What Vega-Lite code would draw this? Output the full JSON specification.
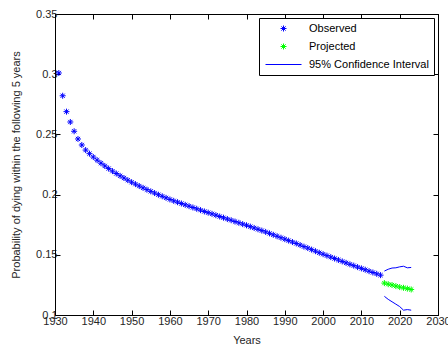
{
  "$schema": "https://vega.github.io/schema/vega-lite/v6.json",
  "width": 383,
  "height": 301,
  "autosize": "none",
  "padding": {"left": 55, "top": 14, "right": 10, "bottom": 32},
  "background": "white",
  "config": {
    "font": "Liberation Sans",
    "view": {"stroke": "black", "strokeWidth": 1},
    "axis": {
      "grid": false,
      "domainColor": "black",
      "tickColor": "black",
      "tickSize": -5,
      "labelFlush": false,
      "labelOverlap": false,
      "labelFontSize": 11,
      "labelColor": "#262626",
      "titleFontSize": 11,
      "titleFontWeight": "normal",
      "titleColor": "#262626"
    }
  },
  "datasets": {
    "all": [
      {"year": 1931, "value": 0.301, "series": "Observed"},
      {"year": 1932, "value": 0.2821, "series": "Observed"},
      {"year": 1933, "value": 0.2689, "series": "Observed"},
      {"year": 1934, "value": 0.2603, "series": "Observed"},
      {"year": 1935, "value": 0.2526, "series": "Observed"},
      {"year": 1936, "value": 0.2462, "series": "Observed"},
      {"year": 1937, "value": 0.2412, "series": "Observed"},
      {"year": 1938, "value": 0.237, "series": "Observed"},
      {"year": 1939, "value": 0.234, "series": "Observed"},
      {"year": 1940, "value": 0.2312, "series": "Observed"},
      {"year": 1941, "value": 0.2286, "series": "Observed"},
      {"year": 1942, "value": 0.2261, "series": "Observed"},
      {"year": 1943, "value": 0.2238, "series": "Observed"},
      {"year": 1944, "value": 0.2216, "series": "Observed"},
      {"year": 1945, "value": 0.2195, "series": "Observed"},
      {"year": 1946, "value": 0.2175, "series": "Observed"},
      {"year": 1947, "value": 0.2156, "series": "Observed"},
      {"year": 1948, "value": 0.2138, "series": "Observed"},
      {"year": 1949, "value": 0.212, "series": "Observed"},
      {"year": 1950, "value": 0.2103, "series": "Observed"},
      {"year": 1951, "value": 0.2087, "series": "Observed"},
      {"year": 1952, "value": 0.2071, "series": "Observed"},
      {"year": 1953, "value": 0.2056, "series": "Observed"},
      {"year": 1954, "value": 0.2041, "series": "Observed"},
      {"year": 1955, "value": 0.2027, "series": "Observed"},
      {"year": 1956, "value": 0.2013, "series": "Observed"},
      {"year": 1957, "value": 0.1999, "series": "Observed"},
      {"year": 1958, "value": 0.1986, "series": "Observed"},
      {"year": 1959, "value": 0.1973, "series": "Observed"},
      {"year": 1960, "value": 0.196, "series": "Observed"},
      {"year": 1961, "value": 0.1948, "series": "Observed"},
      {"year": 1962, "value": 0.1937, "series": "Observed"},
      {"year": 1963, "value": 0.1926, "series": "Observed"},
      {"year": 1964, "value": 0.1915, "series": "Observed"},
      {"year": 1965, "value": 0.1904, "series": "Observed"},
      {"year": 1966, "value": 0.1893, "series": "Observed"},
      {"year": 1967, "value": 0.1882, "series": "Observed"},
      {"year": 1968, "value": 0.1871, "series": "Observed"},
      {"year": 1969, "value": 0.186, "series": "Observed"},
      {"year": 1970, "value": 0.185, "series": "Observed"},
      {"year": 1971, "value": 0.184, "series": "Observed"},
      {"year": 1972, "value": 0.1829, "series": "Observed"},
      {"year": 1973, "value": 0.1818, "series": "Observed"},
      {"year": 1974, "value": 0.1808, "series": "Observed"},
      {"year": 1975, "value": 0.1797, "series": "Observed"},
      {"year": 1976, "value": 0.1787, "series": "Observed"},
      {"year": 1977, "value": 0.1776, "series": "Observed"},
      {"year": 1978, "value": 0.1766, "series": "Observed"},
      {"year": 1979, "value": 0.1755, "series": "Observed"},
      {"year": 1980, "value": 0.1745, "series": "Observed"},
      {"year": 1981, "value": 0.1734, "series": "Observed"},
      {"year": 1982, "value": 0.1723, "series": "Observed"},
      {"year": 1983, "value": 0.1712, "series": "Observed"},
      {"year": 1984, "value": 0.1701, "series": "Observed"},
      {"year": 1985, "value": 0.169, "series": "Observed"},
      {"year": 1986, "value": 0.1678, "series": "Observed"},
      {"year": 1987, "value": 0.1666, "series": "Observed"},
      {"year": 1988, "value": 0.1654, "series": "Observed"},
      {"year": 1989, "value": 0.1642, "series": "Observed"},
      {"year": 1990, "value": 0.163, "series": "Observed"},
      {"year": 1991, "value": 0.1618, "series": "Observed"},
      {"year": 1992, "value": 0.1606, "series": "Observed"},
      {"year": 1993, "value": 0.1594, "series": "Observed"},
      {"year": 1994, "value": 0.1581, "series": "Observed"},
      {"year": 1995, "value": 0.1568, "series": "Observed"},
      {"year": 1996, "value": 0.1556, "series": "Observed"},
      {"year": 1997, "value": 0.1543, "series": "Observed"},
      {"year": 1998, "value": 0.153, "series": "Observed"},
      {"year": 1999, "value": 0.1517, "series": "Observed"},
      {"year": 2000, "value": 0.1505, "series": "Observed"},
      {"year": 2001, "value": 0.1493, "series": "Observed"},
      {"year": 2002, "value": 0.1481, "series": "Observed"},
      {"year": 2003, "value": 0.1469, "series": "Observed"},
      {"year": 2004, "value": 0.1457, "series": "Observed"},
      {"year": 2005, "value": 0.1445, "series": "Observed"},
      {"year": 2006, "value": 0.1433, "series": "Observed"},
      {"year": 2007, "value": 0.1421, "series": "Observed"},
      {"year": 2008, "value": 0.141, "series": "Observed"},
      {"year": 2009, "value": 0.1398, "series": "Observed"},
      {"year": 2010, "value": 0.1387, "series": "Observed"},
      {"year": 2011, "value": 0.1376, "series": "Observed"},
      {"year": 2012, "value": 0.1364, "series": "Observed"},
      {"year": 2013, "value": 0.1353, "series": "Observed"},
      {"year": 2014, "value": 0.1342, "series": "Observed"},
      {"year": 2015, "value": 0.1331, "series": "Observed"},
      {"year": 2016, "value": 0.1265, "series": "Projected"},
      {"year": 2017, "value": 0.1256, "series": "Projected"},
      {"year": 2018, "value": 0.1249, "series": "Projected"},
      {"year": 2019, "value": 0.124, "series": "Projected"},
      {"year": 2020, "value": 0.1232, "series": "Projected"},
      {"year": 2021, "value": 0.1226, "series": "Projected"},
      {"year": 2022, "value": 0.1219, "series": "Projected"},
      {"year": 2023, "value": 0.1212, "series": "Projected"},
      {"year": 2016, "value": 0.1365, "series": "95% Confidence Interval", "bound": "upper"},
      {"year": 2017, "value": 0.138, "series": "95% Confidence Interval", "bound": "upper"},
      {"year": 2018, "value": 0.139, "series": "95% Confidence Interval", "bound": "upper"},
      {"year": 2019, "value": 0.1392, "series": "95% Confidence Interval", "bound": "upper"},
      {"year": 2020, "value": 0.14, "series": "95% Confidence Interval", "bound": "upper"},
      {"year": 2021, "value": 0.1405, "series": "95% Confidence Interval", "bound": "upper"},
      {"year": 2022, "value": 0.1392, "series": "95% Confidence Interval", "bound": "upper"},
      {"year": 2023, "value": 0.1395, "series": "95% Confidence Interval", "bound": "upper"},
      {"year": 2016, "value": 0.1155, "series": "95% Confidence Interval", "bound": "lower"},
      {"year": 2017, "value": 0.113, "series": "95% Confidence Interval", "bound": "lower"},
      {"year": 2018, "value": 0.111, "series": "95% Confidence Interval", "bound": "lower"},
      {"year": 2019, "value": 0.109, "series": "95% Confidence Interval", "bound": "lower"},
      {"year": 2020, "value": 0.107, "series": "95% Confidence Interval", "bound": "lower"},
      {"year": 2021, "value": 0.104, "series": "95% Confidence Interval", "bound": "lower"},
      {"year": 2022, "value": 0.1045, "series": "95% Confidence Interval", "bound": "lower"},
      {"year": 2023, "value": 0.104, "series": "95% Confidence Interval", "bound": "lower"}
    ]
  },
  "data": {"name": "all"},
  "layer": [
    {
      "transform": [{"filter": "datum.series === 'Observed'"}],
      "mark": {"type": "point", "filled": false, "strokeWidth": 1, "size": 100, "opacity": 1},
      "encoding": {
        "x": {"field": "year", "type": "quantitative", "scale": {"domain": [1930, 2030], "nice": false, "zero": false},
              "axis": {"orient": "bottom", "values": [1930,1940,1950,1960,1970,1980,1990,2000,2010,2020,2030], "format": "d", "title": "Years", "labelPadding": 5, "titlePadding": 8}},
        "y": {"field": "value", "type": "quantitative", "scale": {"domain": [0.1, 0.35], "nice": false, "zero": false},
              "axis": {"orient": "left", "values": [0.1,0.15,0.2,0.25,0.3,0.35], "format": "~g", "title": "Probability of dying within the following 5 years", "labelPadding": 3, "titlePadding": 14}},
        "color": {"field": "series", "type": "nominal",
                  "scale": {"domain": ["Observed", "Projected", "95% Confidence Interval"], "range": ["#0000ff", "#00ff00", "#0000ff"]},
                  "legend": {"title": null, "orient": "top-right", "offset": 4, "fillColor": "white", "strokeColor": "black", "padding": 5,
                             "labelFontSize": 11, "labelColor": "black", "symbolSize": 100, "symbolStrokeWidth": 1, "labelOffset": 20, "symbolOffset": 14, "rowPadding": 6}},
        "shape": {"field": "series", "type": "nominal",
                  "scale": {"domain": ["Observed", "Projected", "95% Confidence Interval"],
                            "range": ["M-0.6,0L0.6,0M0,-0.6L0,0.6M-0.42,-0.42L0.42,0.42M-0.42,0.42L0.42,-0.42",
                                      "M-0.6,0L0.6,0M0,-0.6L0,0.6M-0.42,-0.42L0.42,0.42M-0.42,0.42L0.42,-0.42",
                                      "M-3.6,0L3.6,0"]},
                  "legend": {"title": null, "orient": "top-right"}}
      }
    },
    {
      "transform": [{"filter": "datum.series === 'Projected'"}],
      "mark": {"type": "point", "filled": false, "strokeWidth": 1, "size": 100, "opacity": 1},
      "encoding": {
        "x": {"field": "year", "type": "quantitative", "axis": null},
        "y": {"field": "value", "type": "quantitative", "axis": null},
        "color": {"field": "series", "type": "nominal"},
        "shape": {"field": "series", "type": "nominal"}
      }
    },
    {
      "transform": [{"filter": "datum.series === '95% Confidence Interval'"}],
      "mark": {"type": "line", "strokeWidth": 1},
      "encoding": {
        "x": {"field": "year", "type": "quantitative",
              "axis": {"orient": "top", "values": [1930,1940,1950,1960,1970,1980,1990,2000,2010,2020,2030], "labels": false, "title": null}},
        "y": {"field": "value", "type": "quantitative",
              "axis": {"orient": "right", "values": [0.1,0.15,0.2,0.25,0.3,0.35], "labels": false, "title": null}},
        "color": {"field": "series", "type": "nominal"},
        "detail": {"field": "bound", "type": "nominal"}
      }
    }
  ],
  "resolve": {"axis": {"x": "independent", "y": "independent"}}
}
